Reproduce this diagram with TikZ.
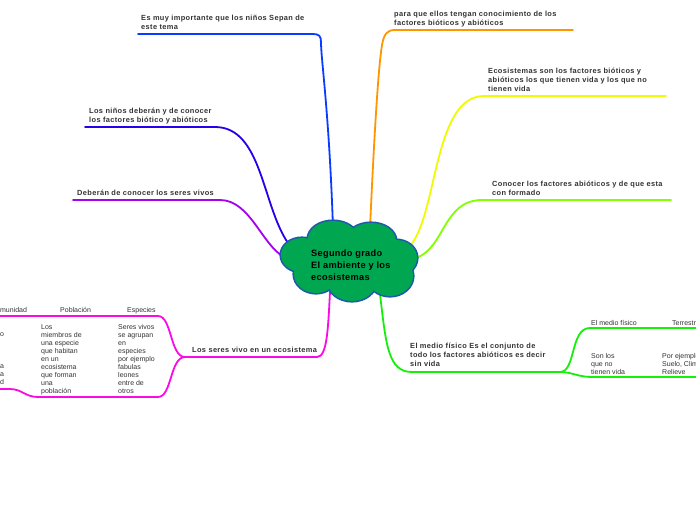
\documentclass[tikz,border=0pt]{standalone}
\usepackage{fontspec}
\setmainfont{Liberation Sans}
\newfontfamily\boldlbl[LetterSpace=3.5]{Liberation Sans}
\newfontfamily\boldmain[LetterSpace=5]{Liberation Sans}
\definecolor{txtgray}{RGB}{51,51,51}
\definecolor{cblue}{RGB}{10,60,255}
\definecolor{cviolet}{RGB}{40,0,235}
\definecolor{cpurple}{RGB}{165,0,240}
\definecolor{cmagenta}{RGB}{250,10,230}
\definecolor{corange}{RGB}{255,150,0}
\definecolor{cyellow}{RGB}{240,250,0}
\definecolor{clgreen}{RGB}{130,255,0}
\definecolor{cgreen}{RGB}{20,240,10}
\definecolor{cloudfill}{RGB}{0,166,80}
\definecolor{cloudline}{RGB}{30,90,170}
\newcommand{\lbl}[1]{\begin{tabular}[b]{@{}l@{}}#1\end{tabular}}
\newcommand{\rlbl}[1]{\begin{tabular}[b]{@{}r@{}}#1\end{tabular}}
\begin{document}
\begin{tikzpicture}[x=1pt,y=-1pt,
  mainlbl/.style={anchor=base west, inner sep=0pt, text=txtgray, font=\boldmain\fontsize{7.4}{9}\selectfont\bfseries},
  sublbl/.style={anchor=base west, inner sep=0pt, text=txtgray, font=\fontsize{7}{8}\selectfont},
  br/.style={line width=1.8pt, line cap=round, line join=round}]
\clip (0,0) rectangle (696,520);
\fill[white] (0,0) rectangle (696,520);

% attachment coordinates
\coordinate (c1) at (333,228);
\coordinate (e1) at (138,34);
\coordinate (c2) at (370,228);
\coordinate (e2) at (573,30);
\coordinate (c3) at (408,248);
\coordinate (e3) at (666,96);
\coordinate (c4) at (416,258);
\coordinate (e4) at (671,200);
\coordinate (c5) at (380,294);
\coordinate (j5) at (560,372);
\coordinate (e5a) at (700,328);
\coordinate (e5b) at (700,377);
\coordinate (c6) at (284,257);
\coordinate (e6) at (73,200);
\coordinate (c7) at (288,243);
\coordinate (e7) at (85,127);
\coordinate (c8) at (330,292);
\coordinate (j8) at (185,357);
\coordinate (e8a) at (-5,316);
\coordinate (k8) at (38,397);
\coordinate (e8b) at (-5,389);

% branches
\draw[br,cblue] (c1) .. controls (329,110) and (321,60) .. (321,42) .. controls (321,36) and (319,34) .. (313,34) -- (e1);
\draw[br,corange] (c2) .. controls (374,140) and (378,70) .. (382,45) .. controls (384,34) and (387,30) .. (395,30) -- (e2);
\draw[br,cyellow] (c3) .. controls (438,220) and (432,96) .. (484,96) -- (e3);
\draw[br,clgreen] (c4) .. controls (445,248) and (443,200) .. (482,200) -- (e4);
\draw[br,cgreen] (c5) .. controls (386,345) and (388,372) .. (412,372) -- (j5);
\draw[br,cgreen] (j5) .. controls (576,372) and (570,328) .. (590,328) -- (e5a);
\draw[br,cgreen] (j5) .. controls (572,372) and (578,377) .. (592,377) -- (e5b);
\draw[br,cpurple] (c6) .. controls (262,245) and (250,200) .. (220,200) -- (e6);
\draw[br,cviolet] (c7) .. controls (262,205) and (262,127) .. (215,127) -- (e7);
\draw[br,cmagenta] (c8) .. controls (328,330) and (327,357) .. (317,357) -- (j8);
\draw[br,cmagenta] (j8) .. controls (170,357) and (172,316) .. (158,316) -- (e8a);
\draw[br,cmagenta] (j8) .. controls (170,357) and (172,397) .. (158,397) -- (k8);
\draw[br,cmagenta] (k8) .. controls (25,397) and (22,389) .. (10,389) -- (e8b);

% cloud
\foreach \cx/\cy/\rx/\ry in {302/255/21/17, 333/239/25/18, 371/241/25/18, 396/258/21/18, 390/276/23/20, 352/282/24/19, 316/274/22/19}
  \draw[cloudline, line width=3.2pt] (\cx,\cy) ellipse [x radius=\rx, y radius=\ry];
\foreach \cx/\cy/\rx/\ry in {302/255/21/17, 333/239/25/18, 371/241/25/18, 396/258/21/18, 390/276/23/20, 352/282/24/19, 316/274/22/19, 350/260/55/26}
  \fill[cloudfill] (\cx,\cy) ellipse [x radius=\rx, y radius=\ry];
\node[anchor=base west, inner sep=0pt, text=black, font=\boldlbl\fontsize{9.2}{12}\selectfont\bfseries] (ctr) at (311,280) {\lbl{Segundo grado\\El ambiente y los\\ecosistemas}};

% main labels
\node[mainlbl] (n1) at (141,29) {\lbl{Es muy importante que los niños Sepan de\\este tema}};
\node[mainlbl] (n2) at (394,25) {\lbl{para que ellos tengan conocimiento de los\\factores bióticos y abióticos}};
\node[mainlbl] (n3) at (488,91) {\lbl{Ecosistemas son los factores bióticos y\\abióticos los que tienen vida y los que no\\tienen vida}};
\node[mainlbl] (n4) at (492,195) {\lbl{Conocer los factores abióticos y de que esta\\con formado}};
\node[mainlbl] (n5) at (410,366) {\lbl{El medio físico Es el conjunto de\\todo los factores abióticos es decir\\sin vida}};
\node[mainlbl] (n6) at (77,195) {\lbl{Deberán de conocer los seres vivos}};
\node[mainlbl] (n7) at (89,122) {\lbl{Los niños deberán y de conocer\\los factores biótico y abióticos}};
\node[mainlbl] (n8) at (192,352) {\lbl{Los seres vivo en un ecosistema}};

% sub labels
\node[sublbl] (s1) at (127,312) {Especies};
\node[sublbl] (s2) at (60,312) {Población};
\node[sublbl] (s3) at (-9,312) {Comunidad};
\node[sublbl] (s4) at (118,393) {\lbl{Seres vivos\\se agrupan\\en\\especies\\por ejemplo\\fabulas\\leones\\entre de\\otros}};
\node[sublbl] (s5) at (41,393) {\lbl{Los\\miembros de\\una especie\\que habitan\\en un\\ecosistema\\que forman\\una\\población}};
\node[sublbl, anchor=base east] (s6) at (4.2,384) {\rlbl{o\\ \\ \\ \\a\\a\\d}};
\node[sublbl] (s7) at (591,325) {El medio físico};
\node[sublbl] (s8) at (672,325) {Terrestre};
\node[sublbl] (s9) at (591,374) {\lbl{Son los\\que no\\tienen vida}};
\node[sublbl] (s10) at (662,374) {\lbl{Por ejemplo\\Suelo, Clima\\Relieve}};
\end{tikzpicture}
\end{document}
